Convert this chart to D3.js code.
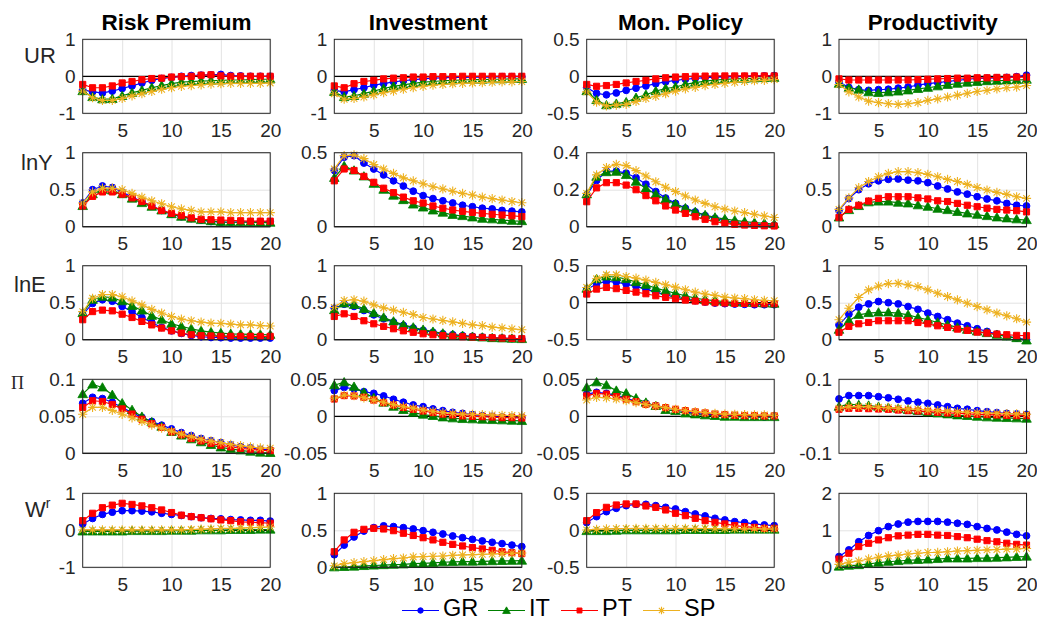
<!DOCTYPE html>
<html>
<head>
<meta charset="utf-8">
<script src="https://cdn.jsdelivr.net/npm/d3@7"></script>
<style>
  body { margin: 0; background: #fff; }
  text { font-family: "Liberation Sans", Arial, Helvetica, sans-serif; }
</style>
</head>
<body>
<svg id="irf" width="1037" height="621"></svg>
<script>
//*********************** DATA ***********************
var countries = ["GR", "IT", "PT", "SP"],
    shocks = ["Risk Premium", "Investment", "Mon. Policy", "Productivity"],
    variables = ["UR", "lnY", "lnE", "Π", "W"],
    horizon = d3.range(1, 21),
    xTicks = [5, 10, 15, 20];

// y tick values per row / column (first and last give the axis limits)
var yTicks = [
  [[-1, 0, 1], [-1, 0, 1], [-0.5, 0, 0.5], [-1, 0, 1]],
  [[0, 0.5, 1], [0, 0.5], [0, 0.2, 0.4], [0, 0.5, 1]],
  [[0, 0.5, 1], [0, 0.5, 1], [-0.5, 0, 0.5], [0, 0.5, 1]],
  [[0, 0.05, 0.1], [-0.05, 0, 0.05], [-0.05, 0, 0.05], [-0.1, 0, 0.1]],
  [[-1, 0, 1], [0, 0.5, 1], [-0.5, 0, 0.5], [0, 1, 2]]
];

// each panel: GR, IT, PT, SP
var ur_risk = [
  [-0.36,-0.42,-0.45,-0.40,-0.33,-0.26,-0.18,-0.11,-0.06,-0.03,0,0.02,0.03,0.04,0.05,0.02,0.01,0,0,0],
  [-0.40,-0.56,-0.62,-0.61,-0.53,-0.45,-0.38,-0.31,-0.25,-0.20,-0.16,-0.14,-0.13,-0.12,-0.11,-0.10,-0.10,-0.09,-0.08,-0.08],
  [-0.22,-0.31,-0.31,-0.26,-0.18,-0.14,-0.09,-0.06,-0.05,-0.02,-0.01,0,0.03,0.04,0.01,0,0,0,0,0],
  [-0.40,-0.58,-0.65,-0.65,-0.60,-0.53,-0.47,-0.41,-0.35,-0.31,-0.27,-0.25,-0.23,-0.21,-0.20,-0.19,-0.19,-0.19,-0.19,-0.18]
];
var ur_inv = [
  [-0.38,-0.42,-0.36,-0.31,-0.24,-0.20,-0.15,-0.12,-0.09,-0.07,-0.05,-0.04,-0.03,-0.03,-0.02,-0.02,-0.02,-0.01,-0.01,-0.01],
  [-0.42,-0.56,-0.53,-0.47,-0.40,-0.33,-0.27,-0.23,-0.19,-0.16,-0.14,-0.12,-0.11,-0.10,-0.09,-0.09,-0.08,-0.08,-0.07,-0.07],
  [-0.26,-0.31,-0.20,-0.14,-0.11,-0.07,-0.05,-0.04,-0.02,-0.02,-0.01,-0.01,-0.01,0,0,0,0,0,0,0],
  [-0.47,-0.62,-0.60,-0.56,-0.50,-0.44,-0.40,-0.35,-0.31,-0.27,-0.24,-0.22,-0.20,-0.19,-0.18,-0.17,-0.16,-0.15,-0.15,-0.14]
];
var ur_mon = [
  [-0.15,-0.23,-0.25,-0.225,-0.19,-0.16,-0.13,-0.10,-0.075,-0.055,-0.04,-0.027,-0.018,-0.013,-0.009,-0.005,-0.002,0.002,0.005,0.01],
  [-0.20,-0.32,-0.39,-0.37,-0.35,-0.29,-0.25,-0.20,-0.165,-0.145,-0.11,-0.085,-0.065,-0.05,-0.041,-0.036,-0.032,-0.027,-0.023,-0.02],
  [-0.11,-0.135,-0.125,-0.11,-0.09,-0.07,-0.055,-0.035,-0.02,-0.01,-0.005,0,0.003,0.004,0.005,0.005,0.005,0.005,0.005,0.005],
  [-0.21,-0.35,-0.40,-0.39,-0.38,-0.34,-0.30,-0.27,-0.235,-0.20,-0.17,-0.15,-0.125,-0.11,-0.095,-0.08,-0.07,-0.06,-0.055,-0.045]
];
var ur_prod = [
  [-0.15,-0.30,-0.36,-0.38,-0.36,-0.35,-0.32,-0.29,-0.24,-0.20,-0.17,-0.14,-0.11,-0.08,-0.06,-0.05,-0.04,-0.03,-0.01,0.03],
  [-0.20,-0.31,-0.36,-0.43,-0.45,-0.43,-0.41,-0.38,-0.34,-0.31,-0.27,-0.23,-0.20,-0.17,-0.15,-0.13,-0.12,-0.11,-0.10,-0.09],
  [-0.07,-0.10,-0.10,-0.10,-0.10,-0.10,-0.10,-0.10,-0.09,-0.08,-0.07,-0.06,-0.05,-0.05,-0.04,-0.04,-0.03,-0.03,-0.02,-0.02],
  [-0.22,-0.42,-0.56,-0.67,-0.71,-0.74,-0.76,-0.74,-0.71,-0.65,-0.61,-0.56,-0.51,-0.46,-0.41,-0.38,-0.34,-0.31,-0.29,-0.25]
];
var lny_risk = [
  [0.32,0.50,0.55,0.53,0.47,0.40,0.34,0.28,0.22,0.17,0.135,0.11,0.09,0.07,0.06,0.06,0.065,0.065,0.07,0.07],
  [0.28,0.44,0.50,0.49,0.44,0.38,0.32,0.27,0.22,0.17,0.135,0.11,0.09,0.075,0.065,0.06,0.06,0.06,0.055,0.055],
  [0.28,0.41,0.47,0.47,0.44,0.39,0.34,0.28,0.22,0.18,0.15,0.12,0.10,0.095,0.09,0.085,0.08,0.075,0.075,0.075],
  [0.32,0.47,0.52,0.52,0.50,0.45,0.40,0.35,0.31,0.27,0.24,0.22,0.20,0.20,0.20,0.19,0.19,0.19,0.19,0.19]
];
var lny_inv = [
  [0.38,0.47,0.48,0.43,0.39,0.35,0.31,0.275,0.24,0.21,0.19,0.175,0.16,0.145,0.135,0.125,0.12,0.11,0.105,0.10],
  [0.33,0.41,0.38,0.34,0.29,0.25,0.21,0.18,0.15,0.13,0.11,0.095,0.08,0.072,0.063,0.054,0.05,0.045,0.04,0.038],
  [0.31,0.39,0.38,0.34,0.30,0.26,0.23,0.20,0.175,0.16,0.14,0.125,0.113,0.104,0.097,0.09,0.084,0.079,0.074,0.068],
  [0.39,0.48,0.485,0.46,0.42,0.39,0.36,0.33,0.31,0.29,0.27,0.255,0.24,0.225,0.214,0.20,0.19,0.18,0.17,0.162]
];
var lny_mon = [
  [0.17,0.25,0.30,0.30,0.29,0.265,0.23,0.19,0.155,0.126,0.10,0.08,0.06,0.045,0.032,0.023,0.016,0.013,0.01,0.007],
  [0.175,0.27,0.295,0.297,0.28,0.243,0.207,0.175,0.148,0.123,0.10,0.08,0.063,0.05,0.041,0.034,0.027,0.022,0.018,0.014],
  [0.135,0.21,0.238,0.238,0.225,0.20,0.168,0.14,0.112,0.09,0.072,0.054,0.04,0.027,0.018,0.013,0.009,0.007,0.005,0.004],
  [0.18,0.28,0.32,0.337,0.33,0.303,0.274,0.243,0.213,0.19,0.166,0.144,0.126,0.108,0.095,0.085,0.076,0.067,0.058,0.05]
];
var lny_prod = [
  [0.22,0.38,0.50,0.58,0.62,0.64,0.645,0.63,0.62,0.595,0.55,0.51,0.47,0.44,0.405,0.375,0.35,0.315,0.29,0.28],
  [0.125,0.225,0.28,0.33,0.34,0.34,0.325,0.315,0.29,0.27,0.243,0.225,0.20,0.18,0.162,0.144,0.126,0.113,0.10,0.09],
  [0.125,0.234,0.29,0.347,0.383,0.405,0.405,0.405,0.39,0.375,0.35,0.34,0.315,0.29,0.27,0.25,0.234,0.225,0.216,0.20],
  [0.234,0.39,0.527,0.61,0.675,0.72,0.743,0.743,0.73,0.707,0.675,0.64,0.61,0.572,0.53,0.495,0.464,0.437,0.405,0.383]
];
var lne_risk = [
  [0.34,0.49,0.54,0.52,0.45,0.38,0.30,0.233,0.166,0.12,0.085,0.058,0.04,0.03,0.027,0.022,0.022,0.022,0.022,0.022],
  [0.36,0.54,0.58,0.57,0.52,0.457,0.395,0.323,0.27,0.215,0.18,0.148,0.12,0.103,0.09,0.08,0.075,0.072,0.07,0.067],
  [0.27,0.38,0.40,0.39,0.345,0.30,0.247,0.20,0.157,0.12,0.09,0.067,0.054,0.05,0.045,0.045,0.045,0.045,0.045,0.045],
  [0.38,0.56,0.61,0.61,0.58,0.525,0.47,0.41,0.36,0.314,0.278,0.256,0.238,0.224,0.22,0.21,0.20,0.20,0.19,0.185]
];
var lne_inv = [
  [0.425,0.48,0.45,0.395,0.336,0.283,0.238,0.193,0.157,0.126,0.10,0.08,0.067,0.054,0.045,0.036,0.027,0.022,0.015,0.009],
  [0.40,0.49,0.47,0.417,0.36,0.30,0.247,0.20,0.166,0.135,0.108,0.085,0.067,0.054,0.04,0.031,0.022,0.018,0.013,0.009],
  [0.314,0.35,0.314,0.256,0.215,0.18,0.148,0.12,0.10,0.08,0.067,0.054,0.045,0.04,0.036,0.031,0.027,0.022,0.018,0.013],
  [0.435,0.53,0.54,0.52,0.47,0.43,0.40,0.37,0.34,0.30,0.28,0.26,0.24,0.22,0.20,0.19,0.17,0.16,0.145,0.135]
];
var lne_mon = [
  [0.175,0.255,0.287,0.278,0.25,0.22,0.184,0.143,0.108,0.076,0.05,0.027,0.009,-0.004,-0.013,-0.018,-0.022,-0.027,-0.027,-0.027],
  [0.19,0.32,0.354,0.345,0.32,0.278,0.242,0.197,0.161,0.126,0.094,0.063,0.04,0.027,0.013,0.004,0,-0.004,-0.009,-0.013],
  [0.117,0.184,0.206,0.19,0.166,0.143,0.121,0.094,0.072,0.054,0.036,0.022,0.009,0,-0.004,-0.009,-0.009,-0.013,-0.013,-0.013],
  [0.206,0.323,0.377,0.377,0.354,0.332,0.305,0.274,0.242,0.21,0.175,0.143,0.117,0.099,0.076,0.063,0.054,0.04,0.031,0.027]
];
var lne_prod = [
  [0.20,0.345,0.44,0.484,0.516,0.50,0.484,0.448,0.41,0.36,0.314,0.27,0.224,0.188,0.148,0.112,0.076,0.045,0.022,0.0],
  [0.135,0.256,0.336,0.36,0.368,0.368,0.36,0.336,0.30,0.27,0.233,0.20,0.166,0.135,0.112,0.09,0.067,0.045,0.022,-0.01],
  [0.10,0.18,0.215,0.233,0.256,0.256,0.256,0.256,0.233,0.215,0.188,0.166,0.143,0.126,0.103,0.09,0.076,0.067,0.058,0.054],
  [0.27,0.426,0.57,0.673,0.726,0.758,0.762,0.74,0.717,0.673,0.628,0.583,0.538,0.493,0.448,0.404,0.36,0.323,0.283,0.238]
];
var pi_risk = [
  [0.0676,0.0757,0.074,0.069,0.062,0.055,0.0486,0.043,0.038,0.033,0.028,0.024,0.020,0.017,0.0144,0.0113,0.009,0.0072,0.0054,0.0045],
  [0.08,0.093,0.089,0.079,0.0676,0.0586,0.0495,0.042,0.036,0.029,0.024,0.019,0.015,0.0113,0.008,0.006,0.004,0.0023,0.001,0.0005],
  [0.062,0.071,0.07,0.066,0.06,0.053,0.046,0.04,0.035,0.029,0.025,0.02,0.0167,0.0135,0.0108,0.0086,0.0068,0.0054,0.004,0.0036],
  [0.0527,0.062,0.062,0.058,0.0527,0.048,0.043,0.038,0.034,0.030,0.026,0.0225,0.019,0.0167,0.0144,0.012,0.0104,0.0086,0.0072,0.0068]
];
var pi_inv = [
  [0.0347,0.039,0.037,0.0333,0.031,0.0275,0.023,0.019,0.0153,0.013,0.01,0.0077,0.0054,0.004,0.0023,0.001,0,-0.001,-0.0014,-0.0018],
  [0.042,0.046,0.040,0.032,0.025,0.0185,0.013,0.0086,0.005,0.0023,0.0005,-0.0014,-0.0027,-0.0036,-0.004,-0.0045,-0.005,-0.0054,-0.0059,-0.0063],
  [0.0234,0.028,0.0275,0.0257,0.022,0.0185,0.0153,0.012,0.0095,0.0072,0.005,0.003,0.0018,0.0005,0,-0.0005,-0.001,-0.0018,-0.0018,-0.0023],
  [0.0243,0.0288,0.028,0.025,0.022,0.019,0.0158,0.013,0.011,0.0086,0.0068,0.005,0.004,0.003,0.0027,0.0023,0.0018,0.0014,0.001,0.0009]
];
var pi_mon = [
  [0.030,0.0324,0.031,0.028,0.0243,0.0207,0.0176,0.0144,0.0117,0.0086,0.0063,0.004,0.0027,0.0018,0.001,0.0005,0,-0.0005,-0.001,0],
  [0.039,0.046,0.042,0.0347,0.031,0.0243,0.0185,0.014,0.0086,0.0072,0.004,0.0027,0.0014,0.0005,-0.0005,-0.0005,-0.001,-0.001,-0.001,-0.001],
  [0.0275,0.031,0.030,0.0266,0.023,0.0198,0.016,0.014,0.0117,0.0095,0.0077,0.0059,0.0045,0.003,0.0023,0.0014,0.001,0.001,0.0005,0.0005],
  [0.022,0.0257,0.025,0.0234,0.021,0.0185,0.016,0.014,0.0117,0.0095,0.0077,0.0063,0.005,0.004,0.003,0.0027,0.0023,0.0018,0.0018,0.0013]
];
var pi_prod = [
  [0.047,0.056,0.056,0.056,0.053,0.050,0.046,0.0414,0.038,0.035,0.0306,0.026,0.0216,0.019,0.0153,0.0126,0.01,0.008,0.0063,0.0054],
  [0.026,0.033,0.0306,0.029,0.026,0.0234,0.0207,0.017,0.0144,0.0108,0.008,0.0054,0.0027,0.001,-0.001,-0.0027,-0.0036,-0.0045,-0.0054,-0.0063],
  [0.019,0.0216,0.0216,0.0207,0.0198,0.019,0.017,0.0153,0.0144,0.0126,0.0108,0.009,0.008,0.0063,0.0054,0.0045,0.0036,0.0027,0.0018,0.0018],
  [0.0216,0.026,0.026,0.026,0.0243,0.0234,0.0216,0.0198,0.019,0.017,0.0153,0.0144,0.0126,0.0108,0.01,0.009,0.008,0.0072,0.0063,0.0054]
];
var wr_risk = [
  [0.17,0.32,0.43,0.49,0.53,0.53,0.52,0.50,0.46,0.43,0.40,0.37,0.34,0.32,0.31,0.29,0.28,0.27,0.27,0.25],
  [-0.03,-0.03,-0.03,-0.03,-0.03,-0.02,-0.02,-0.02,-0.02,-0.01,-0.01,-0.01,0,0,0,0.01,0.01,0.01,0.02,0.02],
  [0.26,0.46,0.61,0.68,0.73,0.70,0.66,0.61,0.55,0.48,0.41,0.37,0.34,0.31,0.28,0.26,0.23,0.22,0.21,0.19],
  [0.01,0.01,0.01,0.01,0.01,0.01,0.01,0.01,0.01,0.01,0.01,0.02,0.03,0.04,0.05,0.05,0.06,0.07,0.08,0.09]
];
var wr_inv = [
  [0.17,0.30,0.41,0.49,0.536,0.56,0.55,0.536,0.518,0.495,0.473,0.45,0.423,0.40,0.378,0.356,0.338,0.32,0.30,0.28],
  [0,0.005,0.01,0.018,0.024,0.03,0.035,0.04,0.05,0.054,0.06,0.068,0.072,0.077,0.077,0.08,0.083,0.086,0.088,0.09],
  [0.21,0.37,0.473,0.513,0.527,0.518,0.495,0.46,0.43,0.40,0.37,0.338,0.31,0.288,0.266,0.248,0.23,0.21,0.198,0.185],
  [0.02,0.05,0.063,0.077,0.09,0.104,0.117,0.126,0.14,0.144,0.149,0.153,0.162,0.167,0.171,0.176,0.18,0.185,0.19,0.194]
];
var wr_mon = [
  [0.104,0.185,0.252,0.297,0.333,0.351,0.351,0.333,0.31,0.288,0.252,0.22,0.194,0.162,0.14,0.117,0.104,0.086,0.072,0.063],
  [-0.01,-0.01,-0.01,-0.005,0,0,0,0,0,0,0.005,0.005,0.005,0.005,0.005,0.01,0.01,0.01,0.01,0.01],
  [0.13,0.239,0.31,0.342,0.356,0.356,0.329,0.31,0.275,0.23,0.198,0.162,0.13,0.108,0.086,0.063,0.05,0.04,0.027,0.027],
  [0.005,0.012,0.018,0.022,0.024,0.025,0.025,0.025,0.025,0.025,0.025,0.025,0.024,0.023,0.022,0.021,0.02,0.019,0.018,0.017]
];
var wr_prod = [
  [0.29,0.47,0.69,0.86,0.99,1.10,1.17,1.22,1.24,1.24,1.24,1.22,1.19,1.16,1.10,1.05,1.01,0.95,0.89,0.85],
  [0.02,0.045,0.06,0.09,0.126,0.15,0.17,0.19,0.20,0.21,0.225,0.24,0.24,0.24,0.25,0.25,0.26,0.27,0.28,0.29],
  [0.22,0.38,0.56,0.65,0.74,0.80,0.85,0.87,0.89,0.89,0.87,0.86,0.83,0.80,0.76,0.72,0.69,0.65,0.62,0.60],
  [0.08,0.135,0.17,0.225,0.27,0.31,0.33,0.36,0.38,0.40,0.405,0.42,0.44,0.45,0.46,0.47,0.48,0.49,0.495,0.51]
];

var panels = [
  [ur_risk, ur_inv, ur_mon, ur_prod],
  [lny_risk, lny_inv, lny_mon, lny_prod],
  [lne_risk, lne_inv, lne_mon, lne_prod],
  [pi_risk, pi_inv, pi_mon, pi_prod],
  [wr_risk, wr_inv, wr_mon, wr_prod]
];

//*********************** LAYOUT ***********************
var colX = [82.7, 334.3, 586.7, 839],
    rowY = [39.3, 152.7, 265.7, 379.3, 493.3],
    pw = 187.5,
    ph = 74,
    colors = {GR: "#0000ff", IT: "#008000", PT: "#ff0000", SP: "#edb120"},
    axisGrey = "#262626";

var svg = d3.select("#irf");

var xScale = d3.scaleLinear().domain([1, 20]).range([0, pw]);

// marker drawing for one series (k scales it down for the legend)
function drawMarker(sel, country, k) {
  var c = colors[country];
  k = k || 1;
  if (country === "GR") {
    sel.append("circle").attr("r", 3.4 * k).attr("fill", c).attr("stroke", c);
  } else if (country === "IT") {
    sel.append("path").attr("d", d3.symbol(d3.symbolTriangle, 40 * k * k)()).attr("transform", "translate(0,0.8)")
      .attr("fill", c).attr("stroke", c).attr("stroke-width", 0.8);
  } else if (country === "PT") {
    sel.append("path").attr("d", d3.symbol(d3.symbolSquare, 38 * k * k)()).attr("fill", c).attr("stroke", c);
  } else {
    var a = 4.6 * k, b = 3.3 * k;
    sel.append("path")
      .attr("d", "M0," + (-a) + "L0," + a + "M" + (-a) + ",0L" + a + ",0M" + (-b) + "," + (-b) + "L" + b + "," + b + "M" + (-b) + "," + b + "L" + b + "," + (-b))
      .attr("fill", "none").attr("stroke", c).attr("stroke-width", 1.1);
  }
}

//*********************** PANELS ***********************
panels.forEach(function(row, r) {
  row.forEach(function(series, c) {
    var ticks = yTicks[r][c];
    var yScale = d3.scaleLinear().domain([ticks[0], ticks[ticks.length - 1]]).range([ph, 0]);

    var g = svg.append("g").attr("transform", "translate(" + colX[c] + "," + rowY[r] + ")");

    g.append("rect").attr("width", pw).attr("height", ph).attr("fill", "#fff");

    // grid + tick labels through d3 axes
    var xAxis = g.append("g").attr("class", "x axis")
      .attr("transform", "translate(0," + ph + ")")
      .call(d3.axisBottom(xScale).tickValues(xTicks).tickSize(-ph).tickPadding(10).tickFormat(d3.format("d")));

    var yAxis = g.append("g").attr("class", "y axis")
      .call(d3.axisLeft(yScale).tickValues(ticks).tickSize(-pw).tickPadding(7).tickFormat(function(d) { return String(d); }));

    [xAxis, yAxis].forEach(function(ax) {
      ax.select(".domain").remove();
      ax.selectAll(".tick line").attr("stroke", "#e3e3e3").attr("stroke-width", 1);
      ax.selectAll(".tick text").attr("fill", axisGrey).style("font-size", "19px")
        .style("font-family", "'Liberation Sans', Arial, sans-serif");
    });

    // zero line
    if (yScale.domain()[0] <= 0 && yScale.domain()[1] >= 0) {
      g.append("line")
        .attr("x1", 0).attr("x2", pw)
        .attr("y1", yScale(0)).attr("y2", yScale(0))
        .attr("stroke", "#000").attr("stroke-width", 1.3);
    }

    var line = d3.line()
      .x(function(d, i) { return xScale(horizon[i]); })
      .y(function(d) { return yScale(d); });

    countries.forEach(function(country, k) {
      var vals = series[k];
      g.append("path").datum(vals)
        .attr("d", line)
        .attr("fill", "none")
        .attr("stroke", colors[country])
        .attr("stroke-width", 1.2);

      g.selectAll(".m" + country)
        .data(vals)
        .enter()
        .append("g")
        .attr("class", "m" + country)
        .attr("transform", function(d, i) {
          return "translate(" + xScale(horizon[i]) + "," + yScale(d) + ")";
        })
        .each(function() { drawMarker(d3.select(this), country); });
    });

    // axes box
    g.append("rect")
      .attr("width", pw).attr("height", ph)
      .attr("fill", "none").attr("stroke", axisGrey).attr("stroke-width", 1);
  });
});

//*********************** TITLES & ROW LABELS ***********************
shocks.forEach(function(s, c) {
  svg.append("text")
    .attr("x", colX[c] + pw / 2)
    .attr("y", 30)
    .attr("text-anchor", "middle")
    .style("font-size", "22.5px")
    .style("font-weight", "bold")
    .attr("fill", "#000")
    .text(s);
});

var labelPos = [[24, 63], [21, 170], [14, 292], [11, 389], [25, 517]];
variables.forEach(function(v, r) {
  var t = svg.append("text")
    .attr("x", labelPos[r][0])
    .attr("y", labelPos[r][1])
    .attr("fill", axisGrey)
    .style("font-size", "22px");
  if (v === "Π") {
    t.style("font-family", "'Liberation Serif', 'DejaVu Serif', serif").style("font-size", "18px").text(v);
  } else if (v === "W") {
    t.text("W");
    t.append("tspan").attr("dy", -9).style("font-size", "14px").text("r");
  } else {
    t.text(v);
  }
});

//*********************** LEGEND ***********************
var legendX = [402, 488, 561, 643];
countries.forEach(function(country, k) {
  var lg = svg.append("g").attr("transform", "translate(" + legendX[k] + ",610.5)");
  lg.append("line").attr("x1", 0).attr("x2", 37).attr("y1", 0).attr("y2", 0)
    .attr("stroke", colors[country]).attr("stroke-width", 1.2);
  drawMarker(lg.append("g").attr("transform", "translate(18.5,0)"), country, 0.8);
  lg.append("text")
    .attr("x", 41)
    .attr("y", 5.3)
    .attr("fill", "#000")
    .style("font-size", "23.5px")
    .text(country);
});
</script>
</body>
</html>
